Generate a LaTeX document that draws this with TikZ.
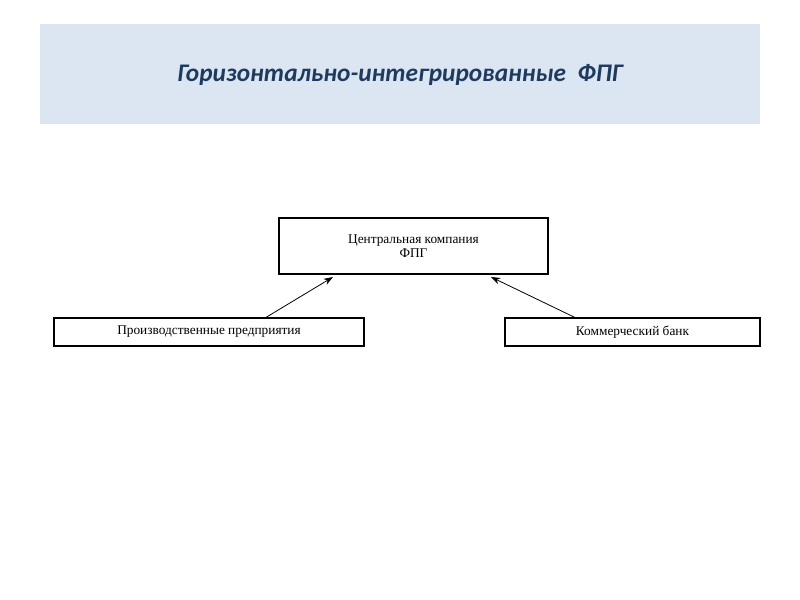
\documentclass[tikz,border=0pt]{standalone}
\usepackage{fontspec}
\setmainfont{Liberation Serif}
\newfontfamily\titlefont{Carlito}
\usetikzlibrary{arrows.meta}
\definecolor{hdr}{HTML}{DCE6F2}
\definecolor{ttl}{HTML}{1F3A5F}
\begin{document}
\begin{tikzpicture}[x=0.75pt,y=-0.75pt,
  box/.style={draw,line width=0.8pt,inner sep=0pt,font=\fontsize{10}{11}\selectfont,align=center},
  arr/.style={-{Stealth[length=7pt,width=5pt]},line width=0.6pt}]
\useasboundingbox (0,0) rectangle (800,600);
\fill[hdr] (40,24) rectangle (760,124);
\node[font=\titlefont\bfseries\itshape\fontsize{19}{22}\selectfont,text=ttl] (title) at (400,75) {Горизонтально-интегрированные\ \ ФПГ};
\node[box,minimum width=269*0.75pt,minimum height=56*0.75pt] (c) at (413.5,246) {Центральная компания\\ФПГ};
\node[box,minimum width=310*0.75pt,minimum height=28*0.75pt] (l) at (209,332) {Производственные предприятия};
\node[box,minimum width=255*0.75pt,minimum height=28*0.75pt] (r) at (632.5,332) {Коммерческий банк};
\coordinate (la) at (265,318); \coordinate (lb) at (333,277);
\coordinate (ra) at (576,318); \coordinate (rb) at (491,277);
\draw[arr] (la) -- (lb);
\draw[arr] (ra) -- (rb);
\end{tikzpicture}
\end{document}
